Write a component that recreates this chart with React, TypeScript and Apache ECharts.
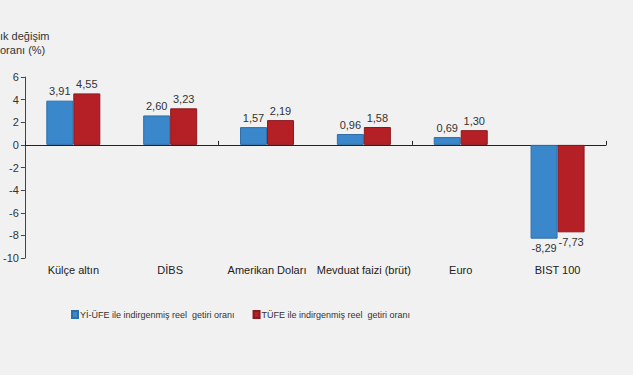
import React, { useEffect, useRef } from "react";
import * as echarts from "echarts";

const categories = ["Külçe altın", "DİBS", "Amerikan Doları", "Mevduat faizi (brüt)", "Euro", "BIST 100"];
const yiUfe = [3.91, 2.6, 1.57, 0.96, 0.69, -8.29];
const tufe = [4.55, 3.23, 2.19, 1.58, 1.3, -7.73];
const seriesNames = ["Yİ-ÜFE ile indirgenmiş reel  getiri oranı", "TÜFE ile indirgenmiş reel  getiri oranı"];
const yTitle = ["ık değişim", "oranı (%)"];

const fmt = (v: number) => v.toFixed(2).replace(".", ",");

function toData(vals: number[]) {
  return vals.map((v) => ({
    value: v,
    label: { position: v < 0 ? "bottom" : "top" },
  }));
}

export default function App() {
  const ref = useRef<HTMLDivElement>(null);
  useEffect(() => {
    if (!ref.current) return;
    const chart = echarts.init(ref.current, undefined, { renderer: "svg" });
    const font = "'Liberation Sans', Arial, sans-serif";
    const labelCommon = {
      show: true,
      fontSize: 11,
      color: "#333",
      fontFamily: font,
      distance: 4,
      formatter: (p: any) => fmt(p.value),
    };
    chart.setOption({
      animation: false,
      backgroundColor: "#f1f1f1",
      textStyle: { fontFamily: font },
      grid: { left: 24, right: 27, top: 77, bottom: 117, containLabel: false },
      legend: {
        left: 66,
        top: 305,
        itemWidth: 6,
        itemHeight: 7,
        itemGap: 18,
        icon: "rect",
        textStyle: { fontSize: 9, color: "#333", fontFamily: font, padding: [0, 0, 0, -3] },
        data: seriesNames,
      },
      graphic: [
        { type: "text", left: 0, top: 30, style: { text: yTitle[0], fontSize: 11, fill: "#333", fontFamily: font } },
        { type: "text", left: 0, top: 44, style: { text: yTitle[1], fontSize: 11, fill: "#333", fontFamily: font } },
      ],
      xAxis: [
        {
          type: "category",
          data: categories,
          position: "bottom",
          axisLine: { show: false, onZero: false },
          axisTick: { show: false },
          axisLabel: { fontSize: 11, color: "#222", margin: 6, fontFamily: font, interval: 0 },
        },
        {
          type: "category",
          data: categories,
          axisLine: { show: true, onZero: true, lineStyle: { color: "#222", width: 1 } },
          axisTick: { show: true, length: 4, inside: false, lineStyle: { color: "#222" } },
          axisLabel: { show: false },
        },
      ],
      yAxis: {
        type: "value",
        min: -10,
        max: 6,
        interval: 2,
        axisLine: { show: true, lineStyle: { color: "#444" } },
        axisTick: { show: true, length: 4, lineStyle: { color: "#444" } },
        splitLine: { show: false },
        axisLabel: { fontSize: 11, color: "#333", margin: 6, fontFamily: font },
      },
      series: [
        {
          name: seriesNames[0],
          type: "bar",
          xAxisIndex: 0,
          barWidth: 27,
          barGap: "0%",
          data: toData(yiUfe),
          itemStyle: { color: "#3a87cc", borderColor: "#2f6ea6", borderWidth: 1 },
          label: labelCommon,
        },
        {
          name: seriesNames[1],
          type: "bar",
          xAxisIndex: 0,
          barWidth: 27,
          barGap: "0%",
          data: toData(tufe),
          itemStyle: { color: "#b42025", borderColor: "#8a1a1e", borderWidth: 1 },
          label: labelCommon,
        },
      ],
    });
    return () => chart.dispose();
  }, []);
  return <div ref={ref} style={{ position: "fixed", left: 0, top: 0, width: 633, height: 375 }} />;
}
